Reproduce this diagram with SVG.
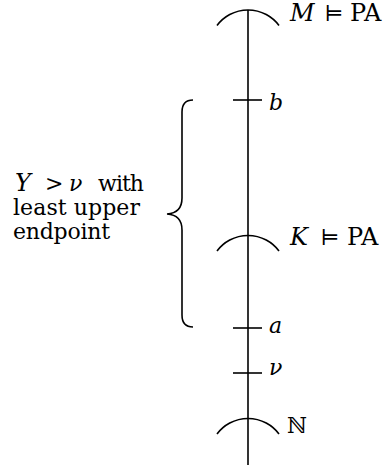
<svg xmlns="http://www.w3.org/2000/svg" width="391" height="468" viewBox="0 0 391 468">
<style>
.ln{fill:none;stroke:#000;stroke-width:1.6;stroke-linecap:butt}
text{font-family:"DejaVu Serif","Liberation Serif",serif;font-size:22px;fill:#000}
.i{font-style:italic}
.L{font-size:24px}
.m{text-anchor:middle}
</style>
<rect width="391" height="468" fill="#fff"/>
<g id="connectors">
<line class="ln" x1="248" y1="10" x2="248" y2="465"/>
</g>
<g id="M">
<path class="ln" d="M217,25.5 A38.7,38.7 0 0 1 279,25.5"/>
<text class="i L" x="290" y="21">M</text>
<text class="m" x="334" y="21">⊨</text>
<text class="L" x="350" y="21">PA</text>
</g>
<g id="b">
<line class="ln" x1="233" y1="100" x2="262" y2="100"/>
<text class="i" x="269" y="110">b</text>
</g>
<g id="K">
<path class="ln" d="M217,251 A38.7,38.7 0 0 1 279,251"/>
<text class="i L" x="290" y="245">K</text>
<text class="m" x="330" y="245">⊨</text>
<text class="L" x="347" y="245">PA</text>
</g>
<g id="a">
<line class="ln" x1="233" y1="328" x2="262" y2="328"/>
<text class="i" x="269" y="333">a</text>
</g>
<g id="nu">
<line class="ln" x1="233" y1="373" x2="262" y2="373"/>
<text class="i" x="269" y="375">ν</text>
</g>
<g id="N">
<path class="ln" d="M217,434 A38.7,38.7 0 0 1 279,434"/>
<text x="287" y="433">ℕ</text>
</g>
<g id="brace">
<path class="ln" d="M193,100 Q182,100 182,112 L182,198 Q182,213 167,214 Q182,215 182,230 L182,315 Q182,327 193,327"/>
<text class="i L" x="15" y="191">Y</text>
<text x="45" y="191">&gt;</text>
<text class="i" x="69" y="191">ν</text>
<text x="98" y="191" textLength="46">with</text>
<text x="13" y="215" textLength="127">least upper</text>
<text x="13" y="239" textLength="97">endpoint</text>
</g>
</svg>
